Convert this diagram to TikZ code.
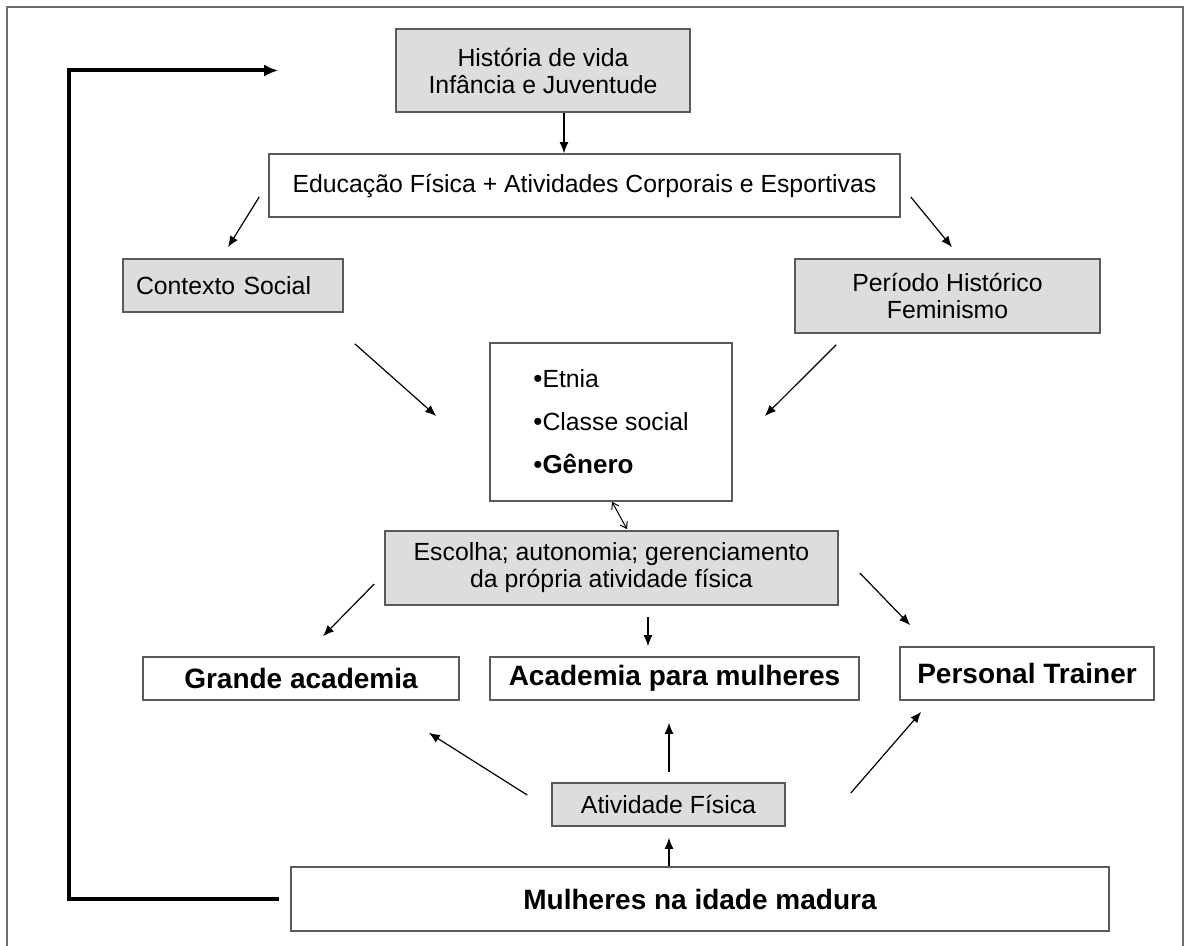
\documentclass[tikz,border=0pt]{standalone}
\usepackage{fontspec}
\setmainfont{Liberation Sans}
\usetikzlibrary{arrows.meta}
\definecolor{boxfill}{RGB}{221,221,221}
\definecolor{boxline}{RGB}{90,90,90}
\definecolor{framegray}{RGB}{110,110,110}
\newcommand{\smallbullet}{{\fontsize{13}{13}\selectfont\mdseries•}}

\begin{document}
\begin{tikzpicture}[x=0.5pt, y=-0.5pt,
  box/.style={draw=boxline, line width=0.8pt, fill=white, inner sep=0pt, align=center, font=\fontsize{12.4}{13.5}\selectfont},
  greybox/.style={box, fill=boxfill},
  boldbox/.style={box, font=\fontsize{14}{16}\selectfont\bfseries},
  arr/.style={-{Latex[length=5.5pt,width=4.5pt]}, line width=0.6pt},
  dbl/.style={{Straight Barb[length=3pt,width=4pt]}-{Straight Barb[length=3pt,width=4pt]}, line width=0.5pt},
  backarrow/.style={-{Latex[length=7pt,width=6pt]}, line width=2pt}]
  \useasboundingbox (0,0) rectangle (1187,946);
  \draw[framegray, line width=1pt] (7,946) |- (1183,7) -- (1183,946);

  \node[greybox, minimum width=147pt, minimum height=41.5pt] (hist) at (543,70.5) {Hist\'oria de vida\\Inf\^ancia e Juventude};
  \node[box, minimum width=315.5pt, minimum height=31.5pt] (edu) at (584.5,185.5) {Educa\c{c}\~ao F\'isica + Atividades Corporais e Esportivas};
  \node[greybox, minimum height=26.5pt] (ctx) at (233,285.5) [text width=97pt, inner xsep=6.5pt, align=left] {Contexto Social};
  \node[greybox, minimum width=152.5pt, minimum height=37pt] (per) at (947.5,296) {Per\'iodo Hist\'orico\\Feminismo};
  \node[box, minimum width=121pt, minimum height=79pt] (grupo) at (611,422) [align=left] {
    \smallbullet Etnia\\[8pt]
    \smallbullet Classe social\\[8pt]
    {\fontsize{13}{15}\selectfont\bfseries\smallbullet G\^enero}};
  \node[greybox, minimum width=226.5pt, minimum height=37pt] (esc) at (611.5,568) {Escolha; autonomia; gerenciamento\\da pr\'opria atividade f\'isica};

  \node[boldbox, minimum width=158pt, minimum height=21.5pt] (grande) at (301,678.5) {Grande academia};
  \node[boldbox, minimum width=184.5pt, minimum height=21.5pt] (acad) at (674.5,678.5) {Academia para mulheres};
  \node[boldbox, minimum width=127pt, minimum height=26.5pt] (pers) at (1027,673.5) {Personal Trainer};
  \node[greybox, minimum width=116.5pt, minimum height=21.5pt] (ativ) at (668.5,804.5) {Atividade F\'isica};
  \node[boldbox, minimum width=409pt, minimum height=32pt] (mulh) at (700,899) {Mulheres na idade madura};

  % upper half
  \draw[arr] ([xshift=10.5pt]hist.south) -- ([xshift=10.5pt]hist.south |- edu.north);
  \draw[arr] ([shift={(-9,11.5)}]edu.west) -- ([shift={(-5,-11)}]ctx.north);
  \draw[arr] ([shift={(10,11.5)}]edu.east) -- ([shift={(4.5,-11)}]per.north);
  \draw[arr] ([shift={(11,31)}]ctx.south east) -- ([shift={(-53,-6)}]grupo.west);
  \draw[arr] ([shift={(42,11)}]per.south west) -- ([shift={(32,-6)}]grupo.east);
  \draw[dbl] ([xshift=0.5pt]grupo.south) -- ([shift={(15.5,-1)}]esc.north);

  % lower half
  \draw[arr] ([shift={(-10,16)}]esc.west) -- ([shift={(22,-20)}]grande.north);
  \draw[arr] ([shift={(36.5,11)}]esc.south) -- ([shift={(-26.5,-10)}]acad.north);
  \draw[arr] ([shift={(21,5)}]esc.east) -- ([shift={(11,-21)}]pers.north west);
  \draw[arr] ([shift={(-24,-9.5)}]ativ.west) -- ([shift={(-31,32)}]grande.south east);
  \draw[arr] ([shift={(0.5,-10)}]ativ.north) -- ([shift={(-5.5,22)}]acad.south);
  \draw[arr] ([shift={(65,-11.5)}]ativ.east) -- ([shift={(22,11)}]pers.south west);
  \draw[arr] ([xshift=-15.5pt]mulh.north) -- ([shift={(0.5,11)}]ativ.south);

  \draw[backarrow] ([xshift=-5.5pt]mulh.west) -- ++(-210,0) |- ([xshift=-58.5pt]hist.west);
\end{tikzpicture}
\end{document}
